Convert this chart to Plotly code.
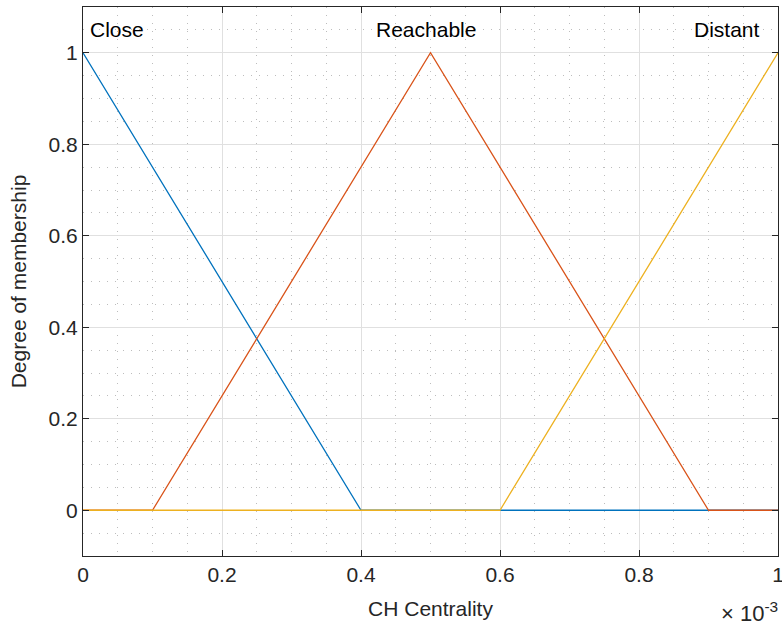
import plotly.graph_objects as go

# Data (x values in units of 1e-3, matching the axis exponent label)
close_x = [0, 0.4, 1]
close_y = [1, 0, 0]
reach_x = [0, 0.1, 0.5, 0.9, 1]
reach_y = [0, 0, 1, 0, 0]
dist_x = [0, 0.6, 1]
dist_y = [0, 0, 1]
x_tickvals = [0, 0.2, 0.4, 0.6, 0.8, 1]
x_ticktext = ["0", "0.2", "0.4", "0.6", "0.8", "1"]
y_tickvals = [0, 0.2, 0.4, 0.6, 0.8, 1]
y_ticktext = ["0", "0.2", "0.4", "0.6", "0.8", "1"]
labels = ["Close", "Reachable", "Distant"]
label_x = [0, 0.5, 1]

FONT = "Liberation Sans, Arial, Helvetica, sans-serif"
FS = 21
fig = go.Figure()
fig.add_trace(go.Scatter(x=close_x, y=close_y, mode="lines", line=dict(color="#0072BD", width=1.3)))
fig.add_trace(go.Scatter(x=reach_x, y=reach_y, mode="lines", line=dict(color="#D95319", width=1.3)))
fig.add_trace(go.Scatter(x=dist_x, y=dist_y, mode="lines", line=dict(color="#EDB120", width=1.3)))

anchors = ["left", "center", "right"]
shifts = [5, -5, -16]
for lab, lx, an, sh in zip(labels, label_x, anchors, shifts):
    fig.add_annotation(x=lx, y=1.05, text=lab, showarrow=False, xanchor=an, yanchor="middle",
                       xshift=sh, font=dict(family=FONT, size=FS, color="#000000"))

fig.add_annotation(xref="paper", yref="paper", x=1.0, y=-0.072, xanchor="right", yanchor="top",
                   text="× 10<sup>-3</sup>", showarrow=False, xshift=2,
                   font=dict(family=FONT, size=22, color="#262626"))

axis_common = dict(showline=True, mirror="ticks", linecolor="#262626", linewidth=1,
                   ticks="inside", ticklen=6, tickcolor="#262626", automargin=False,
                   ticklabeloverflow="allow",
                   showgrid=True, gridcolor="#e0e0e0", gridwidth=1, zeroline=False,
                   tickfont=dict(family=FONT, size=FS, color="#262626"),
                   title_font=dict(family=FONT, size=FS, color="#262626"))

fig.update_xaxes(range=[0, 1], tickvals=x_tickvals, ticktext=x_ticktext,
                 title_text="CH Centrality", title_standoff=16,
                 minor=dict(dtick=0.05, showgrid=True, griddash="1px,7px", gridcolor="#bdbdbd", gridwidth=1, ticks=""),
                 **axis_common)
fig.update_yaxes(range=[-0.1, 1.1], tickvals=y_tickvals, ticktext=y_ticktext,
                 title_text="Degree of membership", title_standoff=16,
                 minor=dict(dtick=0.05, showgrid=True, griddash="1px,7px", gridcolor="#bdbdbd", gridwidth=1, ticks=""),
                 **axis_common)

fig.update_layout(width=782, height=627, showlegend=False,
                  margin=dict(l=83, r=4, t=7, b=71),
                  plot_bgcolor="white", paper_bgcolor="white",
                  font=dict(family=FONT))
fig.write_html("out.html", config={"displayModeBar": False},
               post_script="document.body.style.margin='0';document.body.style.overflow='hidden';")
